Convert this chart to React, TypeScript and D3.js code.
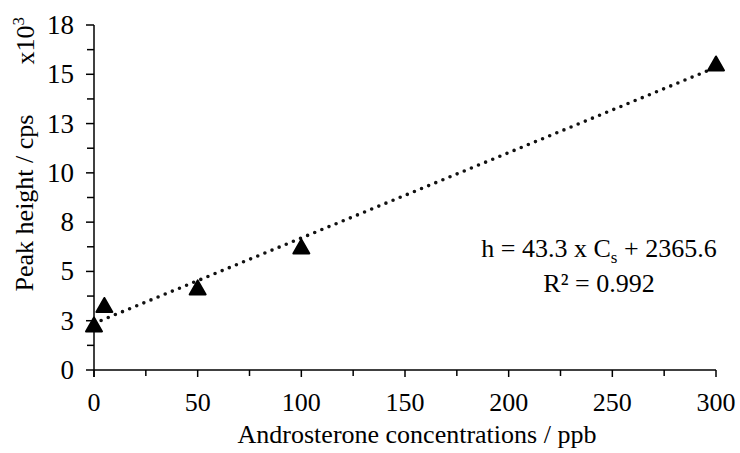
import React from "react";
import * as d3 from "d3";

const concentrations = [0, 5, 50, 100, 300];
const peakHeights = [2310, 3300, 4190, 6270, 15550];
const yTickValues = [0, 2500, 5000, 7500, 10000, 12500, 15000, 17500];
const yTickLabels = ["0", "3", "5", "8", "10", "13", "15", "18"];
const xTickValues = [0, 50, 100, 150, 200, 250, 300];
const TREND_SLOPE = 43.3;
const TREND_INTERCEPT = 2365.6;

const W = 740;
const H = 453;
const FONT = "Liberation Serif, Times New Roman, serif";

export default function App() {
  const x = d3.scaleLinear().domain([0, 300]).range([94, 716]);
  const y = d3.scaleLinear().domain([0, 17500]).range([370, 25]);

  const xMinor = d3.range(25, 300, 50);
  const yMinor = d3.range(1250, 17500, 2500);

  const trend = d3
    .line<number>()
    .x((d) => x(d))
    .y((d) => y(TREND_SLOPE * d + TREND_INTERCEPT));

  const tri = "M0,-7 L8,7 L-8,7 Z";

  return (
    <svg width={W} height={H} style={{ position: "absolute", left: 0, top: 0, background: "#fff" }}>
      {/* axes */}
      <line x1={x(0)} x2={x(300)} y1={y(0)} y2={y(0)} stroke="#000" strokeWidth={1.5} />
      <line x1={x(0)} x2={x(0)} y1={y(0) + 7} y2={y(17500)} stroke="#000" strokeWidth={1.5} />
      {xTickValues.map((v) => (
        <line key={"xt" + v} x1={x(v)} x2={x(v)} y1={y(0)} y2={y(0) + 7} stroke="#000" strokeWidth={1.5} />
      ))}
      {xMinor.map((v) => (
        <line key={"xm" + v} x1={x(v)} x2={x(v)} y1={y(0)} y2={y(0) + 6} stroke="#000" strokeWidth={1.5} />
      ))}
      {yTickValues.map((v) => (
        <line key={"yt" + v} x1={x(0) - 8} x2={x(0)} y1={y(v)} y2={y(v)} stroke="#000" strokeWidth={1.5} />
      ))}
      {yMinor.map((v) => (
        <line key={"ym" + v} x1={x(0) - 7} x2={x(0)} y1={y(v)} y2={y(v)} stroke="#000" strokeWidth={1.5} />
      ))}
      {xTickValues.map((v) => (
        <text key={"xl" + v} x={x(v)} y={411} textAnchor="middle" fontFamily={FONT} fontSize={26} fill="#000">
          {v}
        </text>
      ))}
      {yTickValues.map((v, i) => (
        <text key={"yl" + v} x={74} y={y(v) + 9} textAnchor="end" fontFamily={FONT} fontSize={27} fill="#000">
          {yTickLabels[i]}
        </text>
      ))}
      {/* titles */}
      <text x={(94 + 716) / 2 + 12} y={443} textAnchor="middle" fontFamily={FONT} fontSize={26} fill="#000">
        Androsterone concentrations / ppb
      </text>
      <text transform="translate(33,203) rotate(-90)" textAnchor="middle" fontFamily={FONT} fontSize={26} fill="#000">
        Peak height / cps
      </text>
      <text transform="translate(34,17) rotate(-90)" textAnchor="end" fontFamily={FONT} fontSize={26} fill="#000">
        x10<tspan dy={-10} fontSize={17}>3</tspan>
      </text>
      {/* trendline */}
      <path d={trend([0, 300]) || ""} fill="none" stroke="#111" strokeWidth={3.6} strokeLinecap="round" strokeDasharray="0 7.7" />
      {/* markers */}
      {concentrations.map((c, i) => (
        <path
          key={"m" + i}
          d={tri}
          transform={`translate(${x(c)},${y(peakHeights[i])})`}
          fill="#000"
          stroke="#000"
          strokeWidth={2}
          strokeLinejoin="round"
        />
      ))}
      {/* equation */}
      <text x={599} y={257} textAnchor="middle" fontFamily={FONT} fontSize={26} fill="#000">
        h = 43.3 x C<tspan dy={6} fontSize={17}>s</tspan>
        <tspan dy={-6}> + 2365.6</tspan>
      </text>
      <text x={599} y={292} textAnchor="middle" fontFamily={FONT} fontSize={26} fill="#000">
        R² = 0.992
      </text>
    </svg>
  );
}
